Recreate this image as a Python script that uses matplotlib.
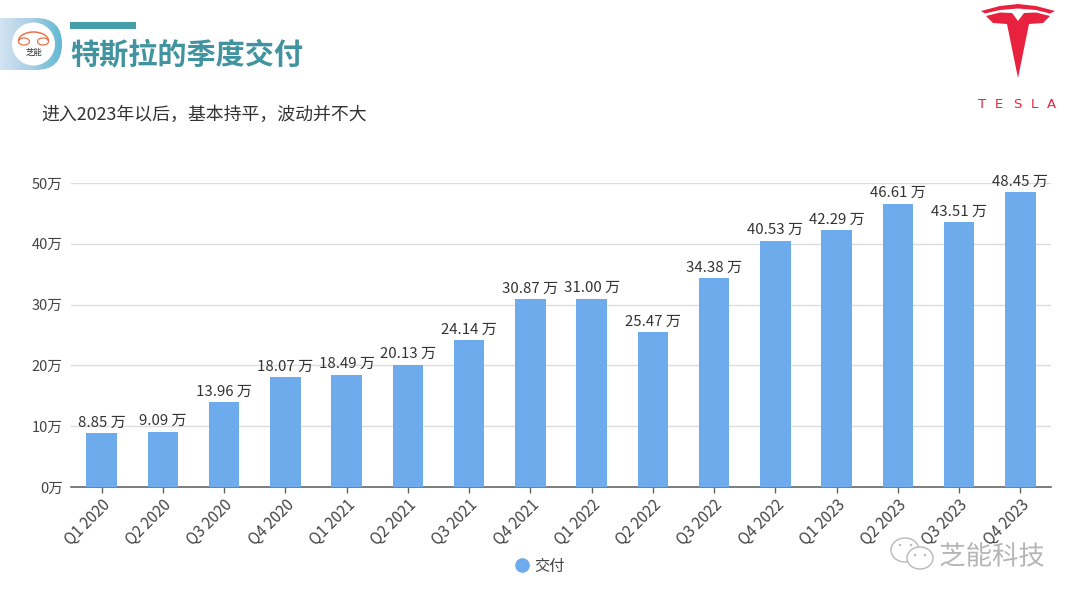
import numpy as np
import matplotlib
matplotlib.use('Agg')
from matplotlib import pyplot as plt
from matplotlib import patheffects
from matplotlib.lines import Line2D
from matplotlib.patches import Arc, Circle, Ellipse, Polygon, Rectangle, FancyBboxPatch
from matplotlib.colors import LinearSegmentedColormap

plt.rcParams['font.family'] = ['Noto Sans CJK SC', 'DejaVu Sans']

quarters = ['Q1 2020', 'Q2 2020', 'Q3 2020', 'Q4 2020',
            'Q1 2021', 'Q2 2021', 'Q3 2021', 'Q4 2021',
            'Q1 2022', 'Q2 2022', 'Q3 2022', 'Q4 2022',
            'Q1 2023', 'Q2 2023', 'Q3 2023', 'Q4 2023']
deliveries = [8.85, 9.09, 13.96, 18.07, 18.49, 20.13, 24.14, 30.87,
              31.00, 25.47, 34.38, 40.53, 42.29, 46.61, 43.51, 48.45]
yticks = [0, 10, 20, 30, 40, 50]
ytick_labels = ['0万', '10万', '20万', '30万', '40万', '50万']

title = '特斯拉的季度交付'
subtitle = '进入2023年以后，基本持平，波动并不大'
watermark = '芝能科技'

W, H = 1080, 604
fig = plt.figure(figsize=(W / 100, H / 100), dpi=100, facecolor='white')

# chart area, from the pixel positions of the axis lines
ax = fig.add_axes([71 / W, (H - 487) / H, 980 / W, 304 / H])
x = np.arange(len(quarters))
bars = ax.bar(x, deliveries, width=0.5, color='#6eabed', zorder=3)
ax.bar_label(bars, labels=[f'{v:.2f} 万' for v in deliveries], padding=2.5,
             fontsize=10.8, color='#333333', zorder=4)

ax.set_xlim(-0.5, 15.5)
ax.set_ylim(0, 50)
ax.set_xticks(x)
ax.set_xticklabels(quarters, rotation=45, ha='right', va='top',
                   rotation_mode='anchor', fontsize=11, color='#444444')
ax.set_yticks(yticks)
ax.set_yticklabels(ytick_labels, fontsize=10.5, color='#444444')
ax.tick_params(axis='x', length=4, width=1, color='#666666', pad=3)
ax.tick_params(axis='y', length=0, pad=6)
ax.grid(axis='y', color='#dcdcdc', linewidth=1, zorder=0)
for side in ['top', 'right', 'left']:
    ax.spines[side].set_visible(False)
ax.spines['bottom'].set_color('#666666')
ax.spines['bottom'].set_linewidth(1.2)

handle = Line2D([], [], marker='o', linestyle='none', color='#6eabed', markersize=9.5)
fig.legend([handle], ['交付'], loc='center', bbox_to_anchor=(537 / W, (H - 566) / H),
           frameon=False, fontsize=11, labelcolor='#444444', handletextpad=0.0,
           handlelength=1.6)

# overlay in pixel coordinates for the header, logos and watermark
deco = fig.add_axes([0, 0, 1, 1], zorder=5)
deco.set_xlim(0, W)
deco.set_ylim(H, 0)
deco.axis('off')
deco.patch.set_alpha(0)

# header badge with gradient
cmap = LinearSegmentedColormap.from_list('badge', ['#d3e3f1', '#a9cfe6', '#62b8d2'])
img = deco.imshow(np.linspace(0, 1, 128).reshape(1, -1), cmap=cmap, aspect='auto',
                  extent=[0, 62, 70, 18], zorder=1)
clip = FancyBboxPatch((-40, 18), 102, 52, boxstyle='round,pad=0,rounding_size=26',
                      facecolor='none', edgecolor='none', transform=deco.transData)
deco.add_patch(clip)
img.set_clip_path(clip)
deco.set_xlim(0, W)
deco.set_ylim(H, 0)
deco.add_patch(Circle((33.5, 44), 21.5, facecolor='white', edgecolor='none', zorder=2))
for cx, cy, w, h in [(24, 41.5, 11, 7), (43, 41.5, 11, 7)]:
    deco.add_patch(Ellipse((cx, cy), w, h, facecolor='none', edgecolor='#e8734a',
                           linewidth=0.9, zorder=3))
deco.add_patch(Arc((33.5, 41), 30, 18, theta1=180, theta2=360, edgecolor='#e8734a',
                   linewidth=1.1, zorder=3))
deco.text(34, 52.5, '芝能', fontsize=6, color='#333333', ha='center', va='center', zorder=4)

deco.add_patch(Rectangle((70, 22), 66, 7, facecolor='#459ea8', edgecolor='none'))
deco.text(70, 54, title, fontsize=21, fontweight='bold', color='#40939f',
          ha='left', va='center')
deco.text(41, 115, subtitle, fontsize=12.9, color='#333333', ha='left', va='center')

# Tesla mark
red = '#e8213e'
arc_top = [(981, 11), (1000, 6), (1018, 4), (1036, 6), (1055, 11),
           (1050, 13.5), (1036, 10), (1018, 8.5), (1000, 10), (985, 13.5)]
t_body = [(986, 16), (1000, 12.5), (1012, 13), (1018, 21), (1024, 13), (1036, 12.5),
          (1050, 16), (1043, 23), (1029, 24), (1018, 78), (1007, 24), (993, 23)]
deco.add_patch(Polygon(arc_top, closed=True, facecolor=red, edgecolor='none'))
deco.add_patch(Polygon(t_body, closed=True, facecolor=red, edgecolor='none'))
for letter, lx in zip('TESLA', [982, 999, 1017, 1034, 1051]):
    deco.text(lx, 105, letter, fontsize=9.5, color=red, ha='center', va='center',
              family='DejaVu Sans')

# watermark
for cx, cy, w, h in [(905, 550, 28, 24), (920, 558, 26, 22)]:
    deco.add_patch(Ellipse((cx, cy), w, h, facecolor='white', edgecolor='#b8b8b8',
                           linewidth=1, zorder=6))
for dx, dy in [(900, 545), (911, 545), (915, 555), (925, 555)]:
    deco.add_patch(Circle((dx, dy), 1.2, facecolor='#b8b8b8', edgecolor='none', zorder=7))
wm = deco.text(992, 557, watermark, fontsize=19, color='#b5b5b5', ha='center', va='center',
               zorder=6)
wm.set_path_effects([patheffects.withStroke(linewidth=1.5, foreground='white')])

fig.savefig('out.png', dpi=100)
